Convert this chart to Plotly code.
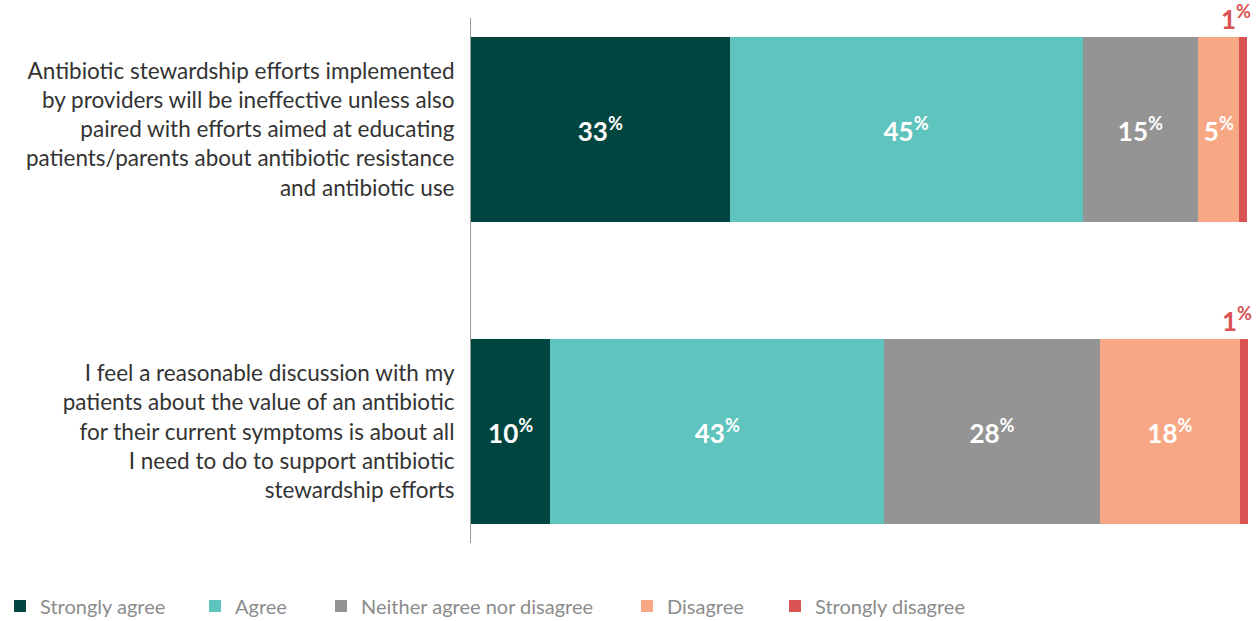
import plotly.graph_objects as go

categories = [
    "Antibiotic stewardship efforts implemented<br>by providers will be ineffective unless also<br>paired with efforts aimed at educating<br>patients/parents about antibiotic resistance<br>and antibiotic use",
    "I feel a reasonable discussion with my<br>patients about the value of an antibiotic<br>for their current symptoms is about all<br>I need to do to support antibiotic<br>stewardship efforts",
]
series_names = ["Strongly agree", "Agree", "Neither agree nor disagree", "Disagree", "Strongly disagree"]
strongly_agree = [33.3, 10.2]
agree = [45.4, 43.0]
neither = [14.9, 27.7]
disagree = [5.3, 18.1]
strongly_disagree = [1.0, 1.0]
label_strongly_agree = [33, 10]
label_agree = [45, 43]
label_neither = [15, 28]
label_disagree = [5, 18]
label_strongly_disagree = [1, 1]

colors = ["#00453F", "#5FC4BE", "#949494", "#F8A784", "#D95353"]
values = [strongly_agree, agree, neither, disagree, strongly_disagree]
labels = [label_strongly_agree, label_agree, label_neither, label_disagree, label_strongly_disagree]
legend_x_px = [12, 211, 337, 643, 791]

FONT = "Lato"
fig = go.Figure()
for i, (name, vals, labs, col) in enumerate(zip(series_names, values, labels, colors)):
    inside = i < 4
    fig.add_trace(go.Bar(
        y=categories, x=vals, name=name, orientation="h",
        marker=dict(color=col, line=dict(width=0)),
        text=[f"<b>{l}<sup>%</sup></b>" for l in labs] if inside else None,
        textposition="inside" if inside else "none",
        insidetextanchor="middle",
        textfont=dict(family=FONT, size=26, color="white"),
        width=0.61,
        legend="legend" if i == 0 else f"legend{i+1}",
        hoverinfo="x+name",
    ))

# outside labels for strongly disagree
for j, cat in enumerate(categories):
    end = strongly_agree[j] + agree[j] + neither[j] + disagree[j] + strongly_disagree[j]
    fig.add_annotation(
        x=end, y=j - 0.305, xref="x", yref="y",
        text=f"<b>{label_strongly_disagree[j]}<sup>%</sup></b>",
        showarrow=False, yanchor="bottom", xanchor="right", xshift=6,
        font=dict(family=FONT, size=26, color=colors[4]),
    )

layout_legends = {}
for i, xp in enumerate(legend_x_px):
    key = "legend" if i == 0 else f"legend{i+1}"
    layout_legends[key] = dict(
        orientation="h", xref="container", yref="container",
        x=(xp - 16) / 1256, xanchor="left", y=1 - 606 / 621, yanchor="middle",
        font=dict(family=FONT, size=20, color="#8C8C8C"),
        bgcolor="rgba(0,0,0,0)", borderwidth=0,
    )

fig.update_layout(
    barmode="stack",
    width=1256, height=621,
    margin=dict(l=471, r=8, t=18, b=78),
    plot_bgcolor="white", paper_bgcolor="white",
    font=dict(family=FONT, color="#333333"),
    xaxis=dict(range=[0, 100], visible=False, fixedrange=True),
    yaxis=dict(
        type="category", categoryorder="array", categoryarray=categories,
        range=[1.368, -0.368], showline=True, linecolor="#9A9A9A", linewidth=1,
        ticks="", showgrid=False, zeroline=False,
        tickfont=dict(family=FONT, size=22.5, color="#333333"),
        ticklabelstandoff=11,
    ),
    showlegend=True,
    **layout_legends,
)

fig.write_html("out.html")
